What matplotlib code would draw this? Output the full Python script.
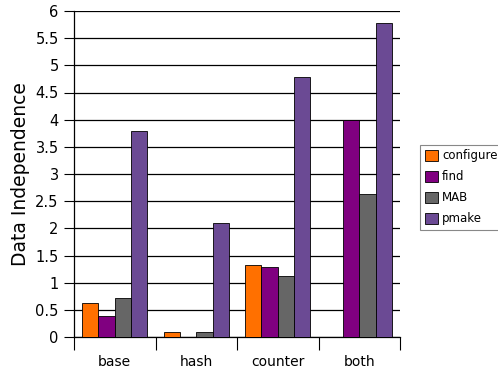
import matplotlib
matplotlib.use("Agg")
import matplotlib.pyplot as plt
import numpy as np

groups = ["base", "hash", "counter", "both"]
series = ["configure", "find", "MAB", "pmake"]
configure = [0.62, 0.10, 1.32, 0.0]
find = [0.39, 0.0, 1.29, 4.0]
mab = [0.72, 0.10, 1.12, 2.63]
pmake = [3.79, 2.10, 4.79, 5.78]
colors = ["#ff7000", "#800080", "#666666", "#6b4a94"]
ytick_labels = ["0", "0.5", "1", "1.5", "2", "2.5", "3", "3.5", "4", "4.5", "5", "5.5", "6"]

values = [configure, find, mab, pmake]

fig = plt.figure(figsize=(4.98, 3.72), dpi=100)
ax = fig.add_axes([74 / 498, 35 / 372, 326 / 498, 326 / 372])

x = np.arange(len(groups))
width = 0.2
for i, (name, vals, color) in enumerate(zip(series, values, colors)):
    ax.bar(x - 0.3 + i * width, vals, width, color=color, edgecolor="black",
           linewidth=0.6, label=name, zorder=3)

ax.set_xlim(-0.5, len(groups) - 0.5)
ax.set_ylim(0, 6)
ax.set_yticks(np.arange(0, 6.01, 0.5))
ax.set_yticklabels(ytick_labels)
ax.yaxis.grid(True, color="black", linewidth=0.9, zorder=0)
ax.set_axisbelow(True)

ax.set_xticks(x)
ax.set_xticklabels(groups)
ax.set_xticks(np.arange(-0.5, len(groups)), minor=True)
ax.tick_params(axis="x", which="major", length=0, pad=13, labelsize=10)
ax.tick_params(axis="x", which="minor", length=9, width=0.8, direction="out")
ax.tick_params(axis="y", length=7, width=0.8, labelsize=10.5, pad=4)

for spine in ["top", "right"]:
    ax.spines[spine].set_visible(False)
ax.spines["left"].set_bounds(0, 6)
ax.spines["bottom"].set_linewidth(0.9)
ax.spines["left"].set_linewidth(0.9)

ax.set_ylabel("Data Independence", fontsize=13.5, labelpad=4)

leg = ax.legend(loc="center left", bbox_to_anchor=(1.062, 0.459), fontsize=8.5,
                handlelength=1.1, handleheight=1.1, handletextpad=0.35,
                borderpad=0.4, labelspacing=0.68, borderaxespad=0,
                fancybox=False, edgecolor="#888888", framealpha=1)
leg.get_frame().set_linewidth(0.8)

fig.savefig("out.png", dpi=100)
